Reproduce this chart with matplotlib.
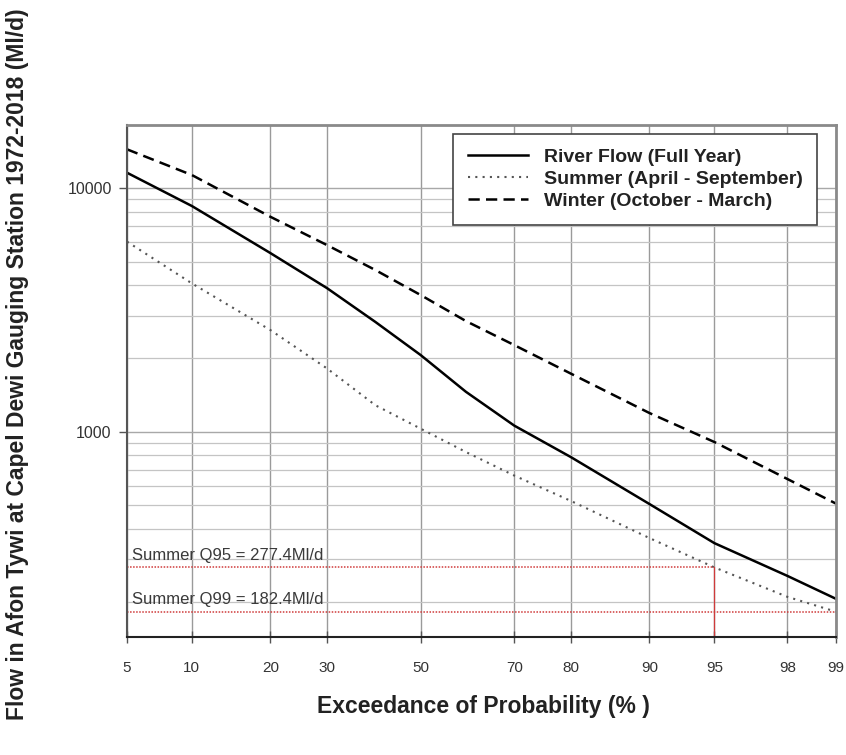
import numpy as np
import matplotlib
matplotlib.use("Agg")
import matplotlib.pyplot as plt
from matplotlib.ticker import FixedLocator, LogLocator, NullFormatter, FixedFormatter
from statistics import NormalDist

plt.rcParams['font.family'] = ['Liberation Sans', 'DejaVu Sans']

# exceedance probability (%) and flows (Ml/d)
exceed = [5, 10, 20, 30, 40, 50, 60, 70, 80, 90, 95, 98, 99]
full_year = [11590, 8460, 5420, 3890, 2825, 2066, 1460, 1060, 787, 505, 349, 256, 206]
summer = [6040, 4070, 2617, 1820, 1285, 1030, 826, 661, 520, 366, 277.4, 210, 182.4]
winter = [14460, 11340, 7640, 5845, 4616, 3645, 2850, 2270, 1733, 1194, 908, 640, 507]

x_ticks = [5, 10, 20, 30, 50, 70, 80, 90, 95, 98, 99]
q95 = 277.4
q99 = 182.4

nd = NormalDist()
_ppf = np.vectorize(lambda p: nd.inv_cdf(min(max(p / 100.0, 1e-9), 1 - 1e-9)), otypes=[float])
_cdf = np.vectorize(lambda z: nd.cdf(z) * 100.0, otypes=[float])

fig = plt.figure(figsize=(8.46, 7.55), dpi=100)
ax = fig.add_axes([127 / 846, 1 - 637 / 755, 709 / 846, 512 / 755])

ax.set_xscale('function', functions=(_ppf, _cdf))
ax.set_yscale('log')
ax.set_xlim(5, 99)
ax.set_ylim(143.6, 18200)

# grid
ax.xaxis.set_major_locator(FixedLocator(x_ticks))
ax.xaxis.set_major_formatter(FixedFormatter([str(t) for t in x_ticks]))
ax.xaxis.set_minor_locator(FixedLocator([]))
ax.yaxis.set_major_locator(FixedLocator([1000, 10000]))
ax.yaxis.set_major_formatter(FixedFormatter(['1000', '10000']))
ax.yaxis.set_minor_locator(LogLocator(base=10, subs=np.arange(2, 10)))
ax.yaxis.set_minor_formatter(NullFormatter())
ax.grid(True, axis='x', color='#9a9a9a', lw=1.0)
ax.grid(True, axis='y', which='major', color='#a8a8a8', lw=1.0)
ax.grid(True, axis='y', which='minor', color='#c4c4c4', lw=0.9)
ax.set_axisbelow(True)

ax.tick_params(axis='x', direction='inout', length=9, width=1, pad=13,
               labelsize=11, labelcolor='#333333', color='#555555')
ax.tick_params(axis='y', which='major', direction='out', length=6, width=1, pad=5,
               labelsize=11.5, labelcolor='#333333', color='#555555')
ax.tick_params(axis='y', which='minor', length=0)

for side in ['top', 'right']:
    ax.spines[side].set_color('#8a8a8a')
    ax.spines[side].set_linewidth(2)
ax.spines['left'].set_color('#555555')
ax.spines['left'].set_linewidth(1.5)
ax.spines['bottom'].set_color('#222222')
ax.spines['bottom'].set_linewidth(1.5)

# curves
ax.plot(exceed, full_year, color='black', lw=1.8, label='River Flow (Full Year)')
ax.plot(exceed, summer, color='#555555', lw=1.5, linestyle=(0, (1, 2.5)),
        label='Summer (April - September)')
ax.plot(exceed, winter, color='black', lw=1.8, linestyle=(0, (4.5, 2.5)),
        label='Winter (October - March)')

# Q95 / Q99 markers
red = '#d03a3a'
ax.plot([5, 95], [q95, q95], color=red, lw=1.1, linestyle=(0, (1, 1)))
ax.plot([95, 95], [143.6, q95], color=red, lw=0.9)
ax.plot([5, 99], [q99, q99], color=red, lw=1.1, linestyle=(0, (1, 1)))
ax.plot([99, 99], [143.6, q99], color=red, lw=0.9)
ax.text(5.3, q95 * 1.045, 'Summer Q95 = 277.4Ml/d', fontsize=12, color='#3a3a3a',
        va='bottom', ha='left')
ax.text(5.3, q99 * 1.045, 'Summer Q99 = 182.4Ml/d', fontsize=12, color='#3a3a3a',
        va='bottom', ha='left')

leg = ax.legend(loc='upper right', bbox_to_anchor=((817 - 127) / 709, (637 - 134) / 512),
                borderaxespad=0, fancybox=False, edgecolor='#444444', framealpha=1,
                prop={'weight': 'bold', 'size': 14}, handlelength=3.1,
                handletextpad=0.8, labelspacing=0.22, borderpad=0.75)
leg.get_frame().set_linewidth(1.2)
for t in leg.get_texts():
    t.set_color('#222222')

fig.text(483 / 846, 1 - 707 / 755, 'Exceedance of Probability (% )', ha='center', va='center',
         fontsize=16.5, fontweight='bold', color='#222222')
fig.text(18 / 846, 1 - 364 / 755,
         'Flow in Afon Tywi at Capel Dewi Gauging Station 1972-2018 (Ml/d)',
         rotation=90, ha='center', va='center', fontsize=16.5, fontweight='bold',
         color='#222222')

fig.savefig('out.png', dpi=100)
